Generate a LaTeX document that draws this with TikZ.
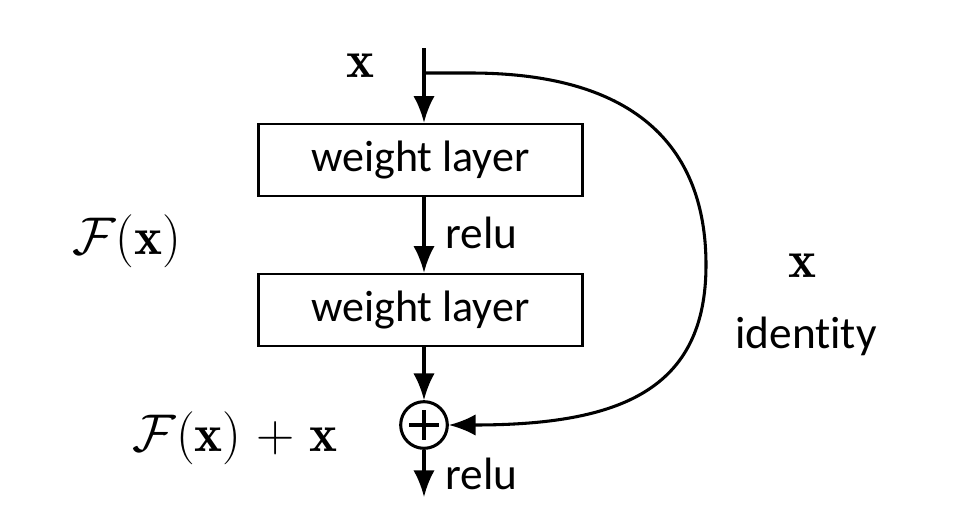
\documentclass[tikz,border=0pt]{standalone}
\usepackage{fontspec}
\setsansfont{Carlito}[Ligatures=NoCommon]
\usetikzlibrary{arrows.meta}
\newcommand{\bigmath}[1]{\scalebox{1.6}{\fontsize{24.88}{30}\selectfont$#1$}}
\begin{document}
\begin{tikzpicture}[x=0.75pt,y=-0.75pt,
  line width=2.3pt,
  layerbox/.style={draw, line width=1.9pt, minimum width=243pt, minimum height=54pt, inner sep=0pt, font=\fontsize{33}{40}\selectfont\sffamily},
  lbl/.style={font=\fontsize{34}{40}\selectfont\sffamily, inner sep=0pt},
  mathlbl/.style={inner sep=0pt},
  arr/.style={-{Latex[length=20pt,width=16pt]}},
  plusnode/.style={circle, draw, line width=2.3pt, minimum size=35pt, inner sep=0pt,
    path picture={\draw[line width=2.4pt] (path picture bounding box.center) ++(-15,0) -- ++(30,0);
                  \draw[line width=2.4pt] (path picture bounding box.center) ++(0,-15) -- ++(0,30);}}]
\useasboundingbox (0,0) rectangle (972,507);
\coordinate (top) at (424,48);
\coordinate (split) at (424,73);
\node[layerbox] (w1) at (420.5,160) {weight layer};
\node[layerbox] (w2) at (420.5,310) {weight layer};
\node[plusnode] (plus) at (424,425) {};
\coordinate (out) at (424,497);
\node[mathlbl] (xin) at (361,66) {\bigmath{\mathbf{x}}};
\node[mathlbl] (fx) at (127,241) {\bigmath{\mathcal{F}(\mathbf{x})}};
\node[mathlbl] (fxx) at (235,438) {\bigmath{\mathcal{F}(\mathbf{x})\mskip1mu+\mskip1mu\mathbf{x}}};
\node[mathlbl] (xid) at (803,266) {\bigmath{\mathbf{x}}};
\node[lbl] (idlbl) at (806,336) {identity};
\node[lbl, anchor=west] (relu1) at (444,233) {relu};
\node[lbl, anchor=west] (relu2) at (444,474) {relu};
\draw[arr] (top) -- (w1.north -| top);
\draw[arr] (w1.south -| top) -- (w2.north -| top);
\draw[arr] (w2.south -| top) -- (plus.north);
\draw[arr] (plus.south) -- (out);
\draw[arr] (split) -- (470,73) .. controls (650,73) and (706,160) .. (706,265)
   .. controls (706,390) and (620,425) .. (plus.east);
\end{tikzpicture}
\end{document}
